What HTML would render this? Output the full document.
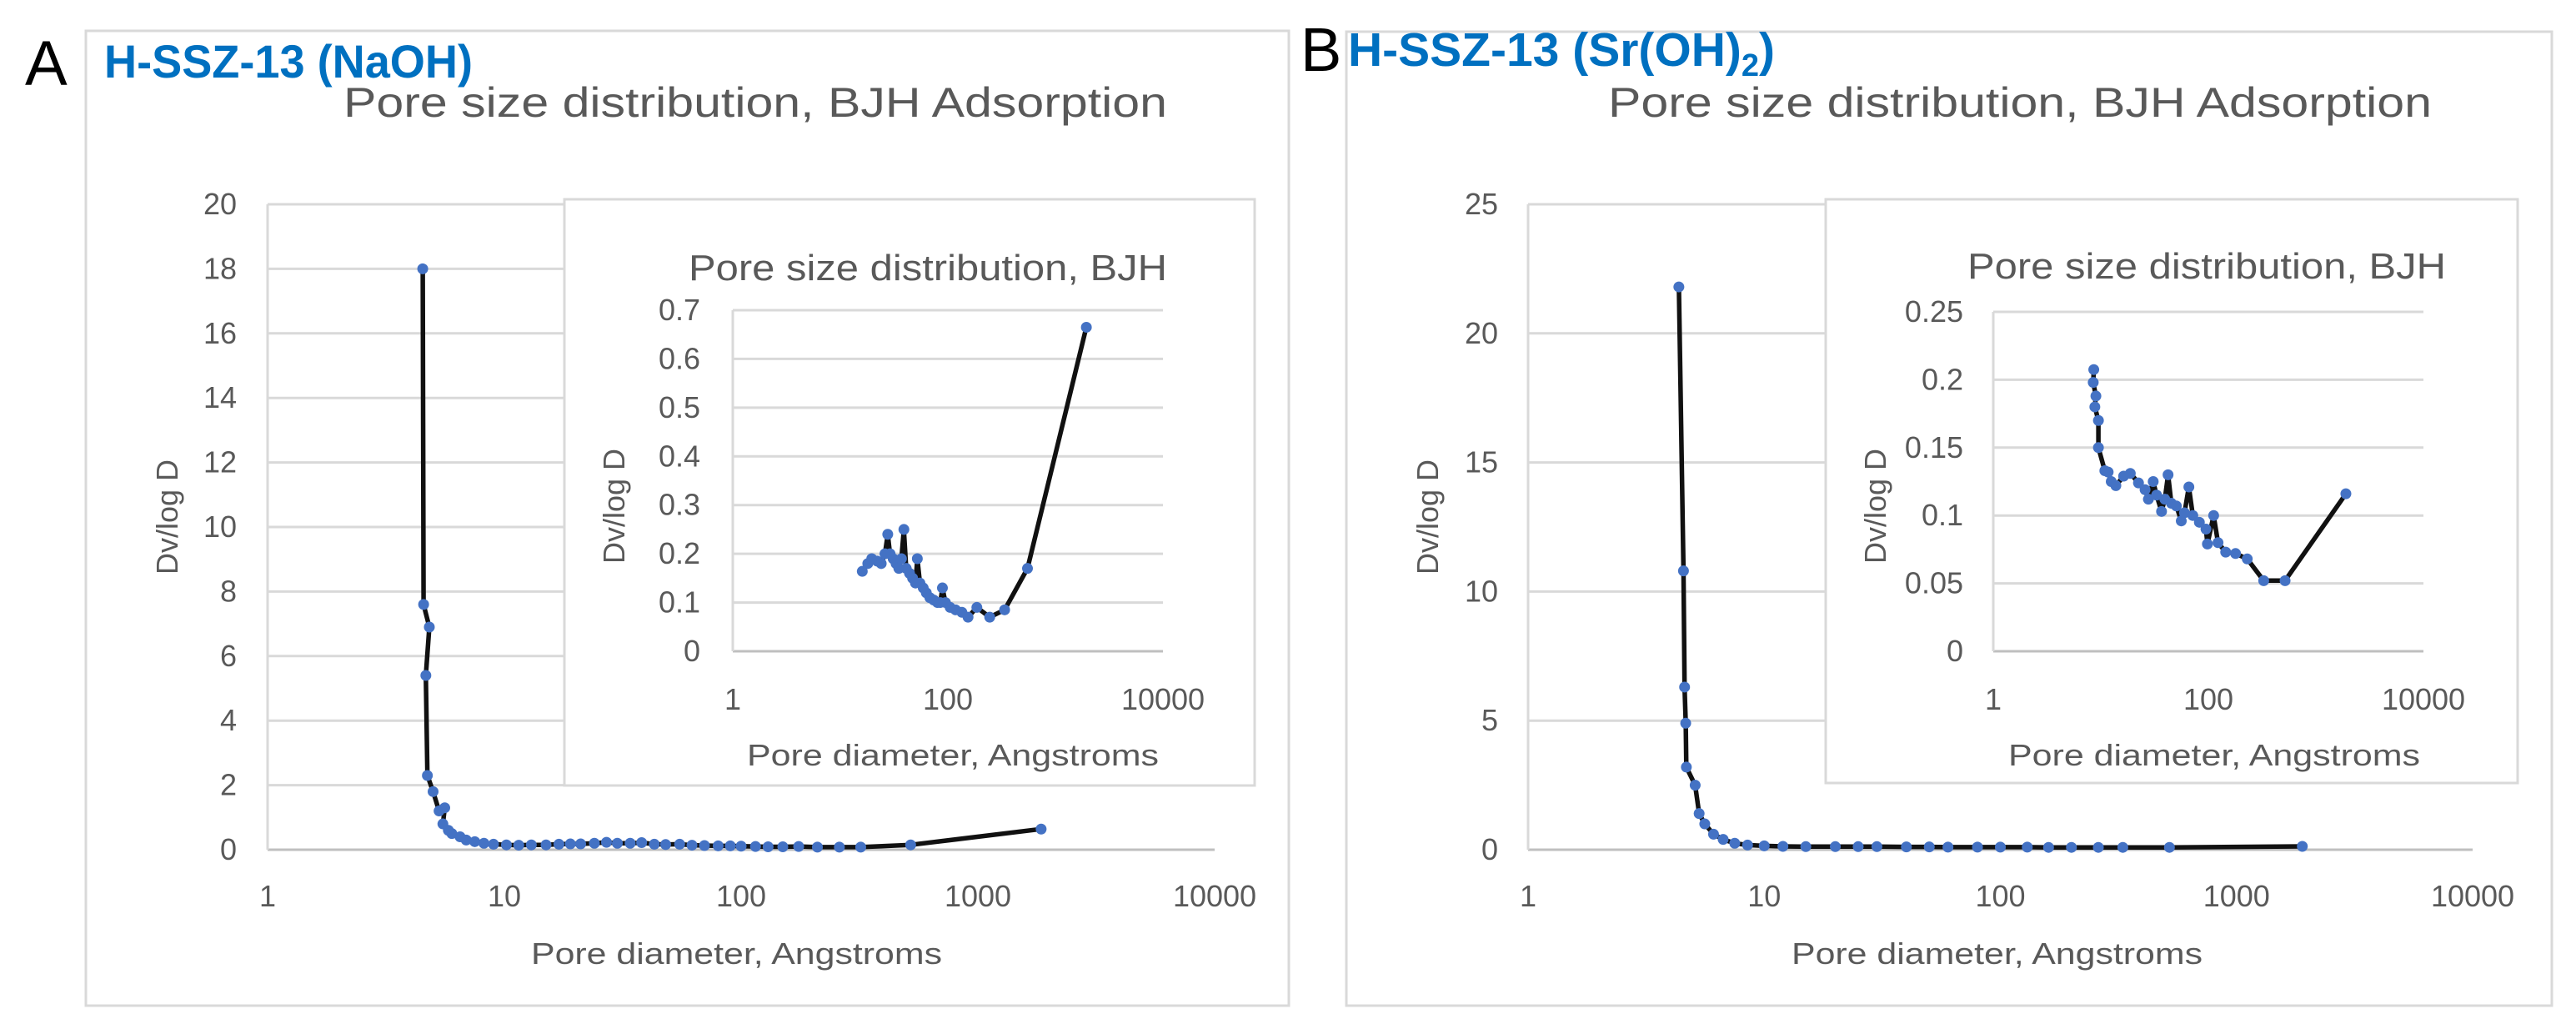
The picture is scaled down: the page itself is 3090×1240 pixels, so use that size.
<!DOCTYPE html>
<html><head><meta charset="utf-8"><style>
html,body{margin:0;padding:0;background:#fff;width:3090px;height:1240px;overflow:hidden}
svg text{font-family:"Liberation Sans",sans-serif;fill:#595959}
</style></head><body>
<svg id="fig" width="3090" height="1240" viewBox="0 0 3090 1240" xmlns="http://www.w3.org/2000/svg">
<rect x="0" y="0" width="3090" height="1240" fill="#fff"/>
<rect x="103" y="37" width="1443" height="1169" fill="#fff" stroke="#d9d9d9" stroke-width="3"/>
<rect x="1615" y="38" width="1446" height="1168" fill="#fff" stroke="#d9d9d9" stroke-width="3"/>
<text x="30" y="102" font-size="76" style="fill:#000">A</text>
<text x="1560" y="85" font-size="74" style="fill:#000">B</text>
<text x="125" y="93" font-size="56" font-weight="bold" style="fill:#0070C0" textLength="442" lengthAdjust="spacingAndGlyphs">H-SSZ-13 (NaOH)</text>
<text x="1617" y="79" font-size="57" font-weight="bold" style="fill:#0070C0">H-SSZ-13 (Sr(OH)<tspan font-size="38" dy="12">2</tspan><tspan dy="-12">)</tspan></text>
<text x="412" y="140" font-size="50" textLength="988" lengthAdjust="spacingAndGlyphs">Pore size distribution, BJH Adsorption</text>
<text x="1929" y="140" font-size="50" textLength="988" lengthAdjust="spacingAndGlyphs">Pore size distribution, BJH Adsorption</text>
<g id="layer"></g>
</svg>
<script>
// ---- Data (diameter in Angstroms, Dv/log D) ----
const mainA_x = [4.52,4.56,4.82,4.66,4.73,5.0,5.3,5.6,5.5,5.8,6.0,6.5,6.9,7.5,8.2,9,10.2,11.5,13,15,17,19,21,24,27,30,34,38,43,48,55,62,70,80,90,100,115,130,150,175,210,260,320,520,1850];
const mainA_y = [18,7.6,6.9,5.4,2.3,1.8,1.2,1.3,0.8,0.6,0.5,0.4,0.3,0.25,0.2,0.17,0.15,0.14,0.15,0.15,0.17,0.18,0.18,0.2,0.23,0.2,0.2,0.22,0.17,0.16,0.17,0.14,0.13,0.12,0.12,0.11,0.1,0.09,0.09,0.1,0.08,0.08,0.08,0.15,0.64];
const insetA_x = [16,18,19.6,22,24,26,27.6,29,31,33,35,37,39,41,44,47,50,52,55,59,63,68,74,80,85,89,95,105,118,135,154,186,245,337,550,1940];
const insetA_y = [0.164,0.18,0.19,0.185,0.18,0.2,0.24,0.2,0.19,0.18,0.17,0.19,0.25,0.17,0.16,0.15,0.14,0.19,0.14,0.13,0.12,0.11,0.105,0.1,0.1,0.13,0.1,0.09,0.085,0.08,0.07,0.09,0.07,0.085,0.17,0.665];
const mainB_x = [4.35,4.55,4.6,4.65,4.68,5.1,5.3,5.6,6.1,6.7,7.5,8.5,10,12,15,20,25,30,40,50,60,80,100,130,160,200,260,330,520,1900];
const mainB_y = [21.8,10.8,6.3,4.9,3.2,2.5,1.4,1.0,0.6,0.4,0.25,0.18,0.15,0.13,0.12,0.12,0.12,0.12,0.11,0.11,0.1,0.1,0.1,0.1,0.09,0.09,0.09,0.09,0.09,0.13];
const insetB_x = [8.6,8.5,9.0,8.8,9.5,9.5,10.9,11.7,12.5,13.8,16.3,18.8,22.4,25.8,27.7,30.7,33,36.7,39.4,42.2,45.3,50.4,56,60,65.9,71.7,82.5,95,98,112,123,145,179,230,327,517,1900];
const insetB_y = [0.2075,0.198,0.188,0.18,0.17,0.15,0.133,0.132,0.125,0.122,0.129,0.131,0.124,0.119,0.112,0.125,0.115,0.103,0.112,0.13,0.109,0.107,0.096,0.102,0.121,0.1,0.095,0.09,0.079,0.1,0.08,0.073,0.072,0.068,0.052,0.052,0.116];
const mainA_yticks = [0,2,4,6,8,10,12,14,16,18,20];
const mainB_yticks = [0,5,10,15,20,25];
const insetA_yticks = [0,0.1,0.2,0.3,0.4,0.5,0.6,0.7];
const insetB_yticks = [0,0.05,0.1,0.15,0.2,0.25];
const main_xticks = [1,10,100,1000,10000];
const inset_xticks = [1,100,10000];

const NS = "http://www.w3.org/2000/svg";
const layer = document.getElementById('layer');
function mk(tag, attrs, parent){
  const e = document.createElementNS(NS, tag);
  for (const k in attrs) e.setAttribute(k, attrs[k]);
  (parent||layer).appendChild(e); return e;
}
function chart(cfg){
  const g = mk('g', {});
  
  
  if (cfg.frame){
    const fr = mk('rect', {x:cfg.frame[0], y:cfg.frame[1], width:cfg.frame[2], height:cfg.frame[3], fill:'#fff', stroke:'#d9d9d9', 'stroke-width':3}, g);
    
    
  }
  const L = cfg.left, R = cfg.right, T = cfg.top, B = cfg.bottom;
  const ymax = cfg.yticks[cfg.yticks.length-1];
  const lx0 = Math.log10(cfg.xmin), lx1 = Math.log10(cfg.xmax);
  const sx = v => L + (Math.log10(v)-lx0)/(lx1-lx0)*(R-L);
  const sy = v => B - v/ymax*(B-T);
  cfg.yticks.forEach(t => {
    if (t > 0){
      const gl = mk('line', {x1:L, x2:R, y1:sy(t), y2:sy(t), stroke:'#d9d9d9', 'stroke-width':3}, g);
      
      
    }
    const tx = mk('text', {x:L-cfg.ylabGap, y:sy(t)+12, 'font-size':cfg.tickSize, 'text-anchor':'end'}, g);
    
    
    tx.textContent = String(t);
  });
  const ax = mk('line', {x1:L, x2:R, y1:B, y2:B, stroke:'#bfbfbf', 'stroke-width':3}, g);
  
  
  const ay = mk('line', {x1:L, x2:L, y1:T, y2:B, stroke:'#d9d9d9', 'stroke-width':3}, g);
  
  
  cfg.xticks.forEach(t => {
    const tx = mk('text', {x:sx(t), y:B+cfg.xlabDy, 'font-size':cfg.tickSize, 'text-anchor':'middle'}, g);
    
    
    tx.textContent = String(t);
  });
  const xt = mk('text', {x:cfg.xtitle[0], y:cfg.xtitle[1], 'font-size':36, textLength:cfg.xtitle[2], lengthAdjust:'spacingAndGlyphs'}, g);
  
  
  xt.textContent = 'Pore diameter, Angstroms';
  const yt = mk('text', {x:0, y:0, 'font-size':36, 'text-anchor':'middle', transform:`translate(${cfg.ytitle[0]},${cfg.ytitle[1]}) rotate(-90)`}, g);
  
  
  yt.textContent = 'Dv/log D';
  if (cfg.title){
    const tt = mk('text', {x:cfg.title[0], y:cfg.title[1], 'font-size':44, textLength:cfg.title[2], lengthAdjust:'spacingAndGlyphs'}, g);
    
    
    tt.textContent = 'Pore size distribution, BJH';
  }
  const pts = cfg.xs.map((x,i) => sx(x).toFixed(1) + ',' + sy(cfg.ys[i]).toFixed(1)).join(' ');
  const pl = mk('polyline', {points:pts, fill:'none', stroke:'#111', 'stroke-width':5.5, 'stroke-linejoin':'round'}, g);
  
  
  cfg.xs.forEach((x,i) => {
    const c = mk('circle', {cx:sx(x), cy:sy(cfg.ys[i]), r:6.5, fill:'#4472C4'}, g);
    
    
  });
}
chart({name:'panel-a-main-chart', left:321, right:1457, top:245, bottom:1019, xmin:1, xmax:10000,
  yticks:mainA_yticks, xticks:main_xticks, xs:mainA_x, ys:mainA_y, tickSize:36, ylabGap:37, xlabDy:68,
  xtitle:[637,1156,493], ytitle:[213,620]});
chart({name:'panel-a-inset-chart', frame:[677,239,828,703], left:879, right:1395, top:372, bottom:781, xmin:1, xmax:10000,
  yticks:insetA_yticks, xticks:inset_xticks, xs:insetA_x, ys:insetA_y, tickSize:36, ylabGap:39, xlabDy:70,
  xtitle:[896,918,494], ytitle:[749,607], title:[826,336,574]});
chart({name:'panel-b-main-chart', left:1833, right:2966, top:245, bottom:1019, xmin:1, xmax:10000,
  yticks:mainB_yticks, xticks:main_xticks, xs:mainB_x, ys:mainB_y, tickSize:36, ylabGap:36, xlabDy:68,
  xtitle:[2149,1156,493], ytitle:[1725,620]});
chart({name:'panel-b-inset-chart', frame:[2190,239,830,700], left:2391, right:2907, top:374, bottom:781, xmin:1, xmax:10000,
  yticks:insetB_yticks, xticks:inset_xticks, xs:insetB_x, ys:insetB_y, tickSize:36, ylabGap:36, xlabDy:70,
  xtitle:[2409,918,494], ytitle:[2262,607], title:[2360,334,574]});
</script>
</body></html>
